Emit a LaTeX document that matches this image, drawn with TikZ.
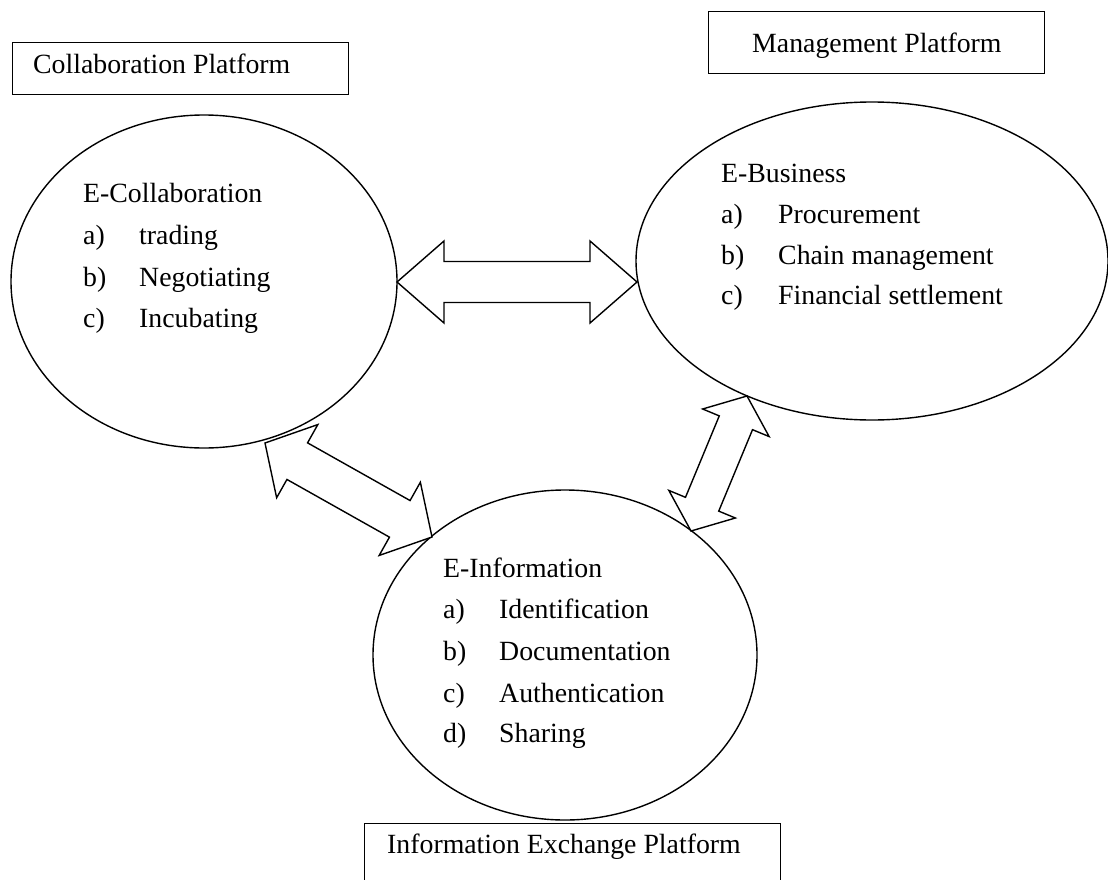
\documentclass[tikz,border=0pt]{standalone}
\usepackage{fontspec}
\setmainfont{Liberation Serif}
\usetikzlibrary{calc,shapes.geometric}
\tikzset{
  txt/.style={anchor=base west, inner sep=0pt, font=\fontsize{27.8pt}{33pt}\selectfont},
  oval/.style={ellipse, draw, line width=1.4pt, inner sep=0pt},
  pbox/.style={draw, line width=1.4pt, anchor=north west, inner sep=0pt},
  blockarrow/.style={draw, fill=white, line width=1.4pt, line join=miter}
}
% #1,#2 tips; #3 head length; #4 head half width; #5 shaft half width
\newcommand\dblarrow[5]{%
  \draw[blockarrow] (#1)
    -- ($(#1)!#3pt!(#2)!#4pt!90:(#2)$)
    -- ($(#1)!#3pt!(#2)!#5pt!90:(#2)$)
    -- ($(#2)!#3pt!(#1)!#5pt!-90:(#1)$)
    -- ($(#2)!#3pt!(#1)!#4pt!-90:(#1)$)
    -- (#2)
    -- ($(#2)!#3pt!(#1)!#4pt!90:(#1)$)
    -- ($(#2)!#3pt!(#1)!#5pt!90:(#1)$)
    -- ($(#1)!#3pt!(#2)!#5pt!-90:(#2)$)
    -- ($(#1)!#3pt!(#2)!#4pt!-90:(#2)$)
    -- cycle;}
\begin{document}
\begin{tikzpicture}[x=1pt,y=-1pt]
\useasboundingbox (0,0) rectangle (1108,880);
\fill[white] (0,0) rectangle (1108,880);

% platform boxes
\node[pbox, minimum width=336pt, minimum height=52pt] (cpbox) at (12,42) {};
\node[txt] (cptxt) at (33,74) {Collaboration Platform};
\node[pbox, minimum width=336pt, minimum height=62pt] (mpbox) at (708,11) {};
\node[txt] (mptxt) at (752,53) {Management Platform};
\node[pbox, minimum width=416pt, minimum height=70pt] (iebox) at (364,823) {};
\node[txt] (ietxt) at (387,853) {Information Exchange Platform};

% ellipses
\node[oval, minimum width=386pt, minimum height=333pt] (col) at (204,281.5) {};
\node[oval, minimum width=472pt, minimum height=318pt] (bus) at (872,261) {};
\node[oval, minimum width=384pt, minimum height=330pt] (inf) at (565,655) {};

% arrow tips
\coordinate (h1) at (397,282);
\coordinate (h2) at (637,282);
\coordinate (d1) at (265,443);
\coordinate (d2) at (432,537);
\coordinate (e1) at (691,531);
\coordinate (e2) at (747,396);
\dblarrow{h1}{h2}{47}{41}{20.5}
\dblarrow{d1}{d2}{37}{42}{21}
\dblarrow{e1}{e2}{29}{36}{18}

% E-Collaboration text
\node[txt] (c0) at (83,202) {E-Collaboration};
\node[txt] (c1a) at (83,244) {a)};
\node[txt] (c1b) at (139,244) {trading};
\node[txt] (c2a) at (83,286) {b)};
\node[txt] (c2b) at (139,286) {Negotiating};
\node[txt] (c3a) at (83,327) {c)};
\node[txt] (c3b) at (139,327) {Incubating};

% E-Business text
\node[txt] (b0) at (721,182) {E-Business};
\node[txt] (b1a) at (721,223) {a)};
\node[txt] (b1b) at (778,223) {Procurement};
\node[txt] (b2a) at (721,264) {b)};
\node[txt] (b2b) at (778,264) {Chain management};
\node[txt] (b3a) at (721,304) {c)};
\node[txt] (b3b) at (778,304) {Financial settlement};

% E-Information text
\node[txt] (i0) at (443,577) {E-Information};
\node[txt] (i1a) at (443,618) {a)};
\node[txt] (i1b) at (499,618) {Identification};
\node[txt] (i2a) at (443,660) {b)};
\node[txt] (i2b) at (499,660) {Documentation};
\node[txt] (i3a) at (443,702) {c)};
\node[txt] (i3b) at (499,702) {Authentication};
\node[txt] (i4a) at (443,742) {d)};
\node[txt] (i4b) at (499,742) {Sharing};
\end{tikzpicture}
\end{document}
